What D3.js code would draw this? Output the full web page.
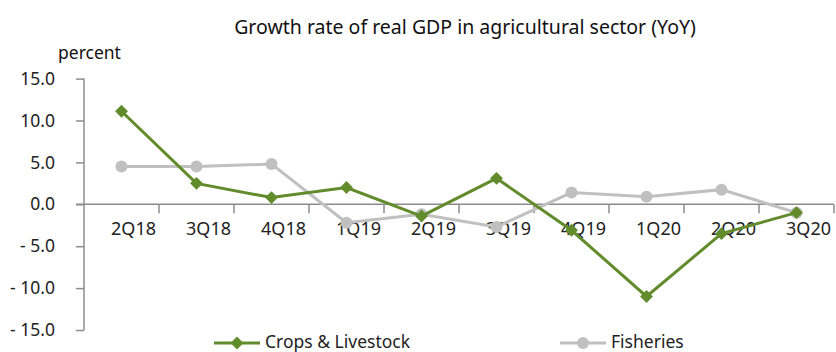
<!DOCTYPE html>
<html>
<head>
<meta charset="utf-8">
<script src="https://cdn.jsdelivr.net/npm/d3@7"></script>
<style>
  body { margin: 0; background: #fff; }
  svg { display: block; font-family: "Noto Sans", "DejaVu Sans", sans-serif; }
</style>
</head>
<body>
<svg width="836" height="352"></svg>
<script>
// quarters and YoY growth (percent)
var quarters = ["2Q18", "3Q18", "4Q18", "1Q19", "2Q19", "3Q19", "4Q19", "1Q20", "2Q20", "3Q20"];
var crops = [11.1, 2.5, 0.8, 2.0, -1.4, 3.1, -3.1, -11.0, -3.5, -1.0];
var fisheries = [4.5, 4.5, 4.8, -2.2, -1.2, -2.7, 1.4, 0.9, 1.75, -1.0];
var yTicks = [15, 10, 5, 0, -5, -10, -15];

var svg = d3.select("svg"),
    green = "#628b2c",
    grey = "#c0c0c0",
    axisCol = "#8c8c8c";

var x = d3.scaleBand().domain(quarters).range([84, 834]);
var y = d3.scaleLinear().domain([-15, 15]).range([330, 78.6]);
var cx = function(d, i) { return x(quarters[i]) + x.bandwidth() / 2; };

// title + unit
svg.append("text")
    .attr("x", 465).attr("y", 34)
    .attr("text-anchor", "middle")
    .attr("font-size", 19.5)
    .attr("fill", "#111")
    .text("Growth rate of real GDP in agricultural sector (YoY)");

svg.append("text")
    .attr("x", 58).attr("y", 59)
    .attr("font-size", 17.5)
    .attr("fill", "#111")
    .text("percent");

// y axis
var yAxis = svg.append("g")
    .attr("transform", "translate(84,0)")
    .call(d3.axisLeft(y).tickValues(yTicks).tickFormat(d3.format(".1f")).tickSize(8).tickPadding(21));
yAxis.select(".domain").attr("stroke", axisCol).attr("stroke-width", 1.5).attr("d", "M0," + y(15) + "V" + y(-15));
yAxis.selectAll(".tick line").attr("stroke", axisCol).attr("stroke-width", 1.5);
yAxis.selectAll(".tick text")
    .attr("font-size", 17.5)
    .attr("fill", "#222")
    .attr("font-family", "\"Noto Sans\", sans-serif")
    .text(function(d) { return d < 0 ? "- " + d3.format(".1f")(-d) : d3.format(".1f")(d); });

// x axis at zero
var xAxis = svg.append("g")
    .attr("transform", "translate(0," + y(0) + ")")
    .call(d3.axisBottom(x).tickSize(0).tickPadding(18));
xAxis.select(".domain").attr("stroke", axisCol).attr("stroke-width", 1.5).attr("d", "M76,0H834");
xAxis.selectAll(".tick text")
    .attr("font-size", 18)
    .attr("fill", "#222")
    .attr("font-family", "\"Noto Sans\", sans-serif")
    .attr("dx", 12);
// boundary tick marks between categories
svg.append("g").selectAll("line")
    .data(quarters)
    .enter().append("line")
    .attr("x1", function(d) { return x(d) + x.bandwidth(); })
    .attr("x2", function(d) { return x(d) + x.bandwidth(); })
    .attr("y1", y(0)).attr("y2", y(0) + 9)
    .attr("stroke", axisCol).attr("stroke-width", 1.5);

var line = d3.line().x(cx).y(function(d) { return y(d); });

// fisheries (behind)
svg.append("path")
    .datum(fisheries)
    .attr("d", line)
    .attr("fill", "none")
    .attr("stroke", grey)
    .attr("stroke-width", 3);
svg.append("g").selectAll("circle")
    .data(fisheries)
    .enter().append("circle")
    .attr("cx", cx)
    .attr("cy", function(d) { return y(d); })
    .attr("r", 6)
    .attr("fill", grey);

// crops & livestock
svg.append("path")
    .datum(crops)
    .attr("d", line)
    .attr("fill", "none")
    .attr("stroke", green)
    .attr("stroke-width", 3);
var diamond = d3.symbol().type(d3.symbolDiamond2).size(105);
svg.append("g").selectAll("path")
    .data(crops)
    .enter().append("path")
    .attr("d", diamond)
    .attr("transform", function(d, i) { return "translate(" + cx(d, i) + "," + y(d) + ")"; })
    .attr("fill", green);

// legend
var legend = [
  { name: "Crops & Livestock", color: green, x: 214, shape: "diamond" },
  { name: "Fisheries", color: grey, x: 560, shape: "circle" }
];
var lg = svg.append("g").selectAll("g")
    .data(legend)
    .enter().append("g")
    .attr("transform", function(d) { return "translate(" + d.x + ",343)"; });
lg.append("line")
    .attr("x1", 0).attr("x2", 46)
    .attr("stroke", function(d) { return d.color; })
    .attr("stroke-width", 3);
lg.append("path")
    .attr("d", function(d) {
      return d.shape === "diamond" ? diamond() : d3.symbol().type(d3.symbolCircle).size(110)();
    })
    .attr("transform", "translate(23,0)")
    .attr("fill", function(d) { return d.color; });
lg.append("text")
    .attr("x", 51).attr("y", 5)
    .attr("font-size", 17.5)
    .attr("fill", "#222")
    .text(function(d) { return d.name; });
</script>
</body>
</html>
